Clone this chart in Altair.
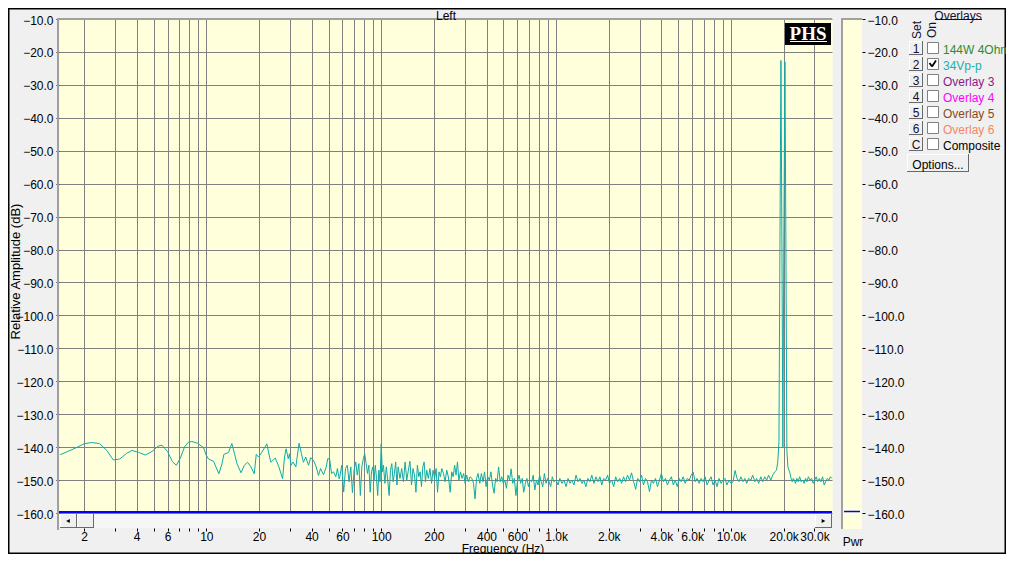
import altair as alt
import pandas as pd

# ---------------- spectrum data ----------------
freq_low = [1.46, 1.6, 1.8, 2.0, 2.2, 2.45, 2.7, 2.94, 3.2, 3.5,
            3.76, 4.1, 4.48, 4.9, 5.3, 5.58, 6.0, 6.4, 6.74, 7.1,
            7.5, 7.9, 8.28, 8.9, 9.65, 10.0, 10.3, 11.0, 11.8, 12.3,
            12.6, 13.4, 14.0, 14.5, 14.97, 15.8, 16.5, 17.2, 18.0, 18.8,
            19.3, 19.9, 20.8, 22.2, 23.0, 23.4, 24.8, 26.0, 27.3, 28.0,
            28.6, 29.4, 29.9, 30.5, 31.3, 32.5, 33.9, 35.0, 35.9, 37.0,
            38.4, 39.5, 41.0, 42.5, 43.8, 45.0, 46.8, 48.5, 49.5, 50.7,
            52.0, 53.4, 55.0, 56.2, 57.5]
db_low = [-142.3, -141.4, -140.2, -139.0, -138.6, -138.9, -141.0, -143.9, -143.6, -141.9,
          -141.0, -141.6, -142.4, -141.3, -139.7, -139.4, -141.3, -144.4, -145.5, -143.4,
          -140.0, -138.5, -138.3, -138.8, -140.2, -142.5, -143.6, -144.3, -148.1, -145.0,
          -142.2, -141.6, -138.9, -142.0, -145.0, -147.8, -145.5, -144.6, -146.0, -148.1,
          -142.2, -143.0, -141.5, -139.0, -143.0, -144.6, -143.3, -146.0, -149.6, -143.0,
          -140.5, -143.5, -142.0, -145.5, -144.5, -146.0, -138.8, -142.0, -144.6, -143.0,
          -145.5, -143.2, -144.0, -146.0, -148.6, -146.5, -148.4, -146.0, -143.5, -143.6,
          -148.0, -147.5, -149.0, -146.5, -149.6]

freq_mid = [58, 59.5, 61, 62.5, 64, 65.5, 67, 68.5, 70, 71.5,
            73, 74.5, 76, 77.5, 79, 80.5, 82, 83.5, 85, 86.5,
            88, 89.5, 91, 92.5, 94, 95.5, 97, 98.5, 100, 101.5,
            103, 105, 107, 109, 111, 113, 115, 117, 119, 121,
            123, 125, 128, 131, 134, 137, 140, 143, 146, 149,
            152, 155, 158, 161, 164, 167, 170, 173, 176, 179,
            182, 186, 190, 194, 198, 202, 206, 210, 214, 218,
            222, 227, 232, 237, 242, 248, 253, 258, 263, 268,
            273, 278, 284, 290, 296, 302, 308, 315, 322, 330,
            337, 344, 351, 358, 366, 374, 382, 390, 398, 406,
            415, 424, 433, 442, 451, 460, 469, 479, 489, 499,
            509, 520, 531, 542, 553, 565, 577, 589, 601, 614,
            627, 640, 653, 667, 681, 695, 710, 725, 740, 756,
            772, 788, 805, 822, 839, 857, 875, 893, 912, 931,
            951, 971]
db_mid = [-149.0, -145.5, -153.6, -146.5, -145.5, -150.5, -146.0, -153.8, -147.0, -144.5,
          -148.5, -145.0, -154.7, -146.0, -143.5, -142.0, -145.0, -148.0, -145.5, -153.7,
          -147.5, -146.0, -150.0, -145.5, -149.5, -154.7, -147.0, -150.5, -139.0, -147.5,
          -145.5, -151.0, -146.0, -150.0, -154.7, -147.0, -145.0, -150.5, -148.0, -144.5,
          -151.5, -146.0, -149.5, -146.5, -150.5, -144.5, -150.0, -147.0, -144.3, -151.5,
          -146.5, -148.5, -153.7, -145.5, -149.0, -147.5, -152.0, -146.0, -144.5, -150.5,
          -147.0, -149.5, -146.5, -151.0, -147.0, -149.5, -146.5, -153.7, -147.5, -149.0,
          -146.5, -148.0, -150.5, -147.0, -149.0, -153.7, -147.5, -149.0, -145.5, -148.5,
          -144.5, -150.0, -147.5, -149.5, -148.0, -151.0, -148.5, -150.5, -149.0, -149.5,
          -151.0, -155.7, -149.5, -148.0, -151.0, -148.0, -150.5, -147.5, -152.0, -149.0,
          -150.0, -147.5, -151.5, -154.0, -149.5, -150.5, -146.0, -150.5, -149.0, -151.0,
          -150.0, -152.5, -148.5, -150.0, -146.6, -151.0, -149.5, -154.7, -150.5, -148.5,
          -151.0, -149.5, -153.7, -151.0, -149.5, -152.0, -150.0, -150.5, -148.5, -153.0,
          -150.0, -151.5, -148.5, -150.5, -152.0, -148.0, -151.0, -149.5, -150.5, -152.0,
          -149.0, -150.5]

freq_high = [1000, 1025, 1050, 1080, 1110, 1140, 1170, 1200, 1230, 1265,
             1300, 1335, 1370, 1405, 1440, 1480, 1520, 1560, 1600, 1645,
             1690, 1735, 1780, 1825, 1870, 1920, 1970, 2020, 2080, 2135,
             2190, 2250, 2310, 2370, 2430, 2495, 2560, 2630, 2700, 2775,
             2850, 2925, 3000, 3080, 3160, 3245, 3330, 3420, 3510, 3600,
             3700, 3800, 3900, 4000, 4110, 4220, 4330, 4450, 4560, 4680,
             4800, 4930, 5060, 5190, 5330, 5470, 5620, 5770, 5920, 6080,
             6240, 6400, 6570, 6750, 6930, 7110, 7300, 7500, 7690, 7900,
             8100, 8320, 8540, 8770, 9000, 9240, 9480, 9740, 10000, 10270,
             10550, 10830, 11100, 11400, 11700, 12000, 12300, 12600, 13000, 13300,
             13700, 14000, 14400, 14800, 15200, 15600, 16000, 16400, 16900, 17300,
             17800, 18200, 18500, 18800, 19050, 19300, 19550, 19800, 20050, 20340,
             20600, 20870, 21150, 21450, 21750, 22050, 22400, 22700, 23000, 23400,
             23800, 24200, 24700, 25200, 25700, 26200, 26700, 27200, 27700, 28300,
             28900, 29500, 30100, 30700, 31300, 32000, 32700, 33400, 34100, 34800,
             35500, 36300, 37000, 37800]
db_high = [-150.0, -151.5, -149.5, -151.0, -150.0, -152.0, -149.5, -151.0, -150.0, -151.5,
           -148.5, -150.5, -149.5, -151.0, -150.0, -152.0, -149.5, -150.5, -148.5, -151.0,
           -149.0, -150.5, -149.0, -151.5, -149.5, -150.0, -148.5, -151.0, -150.0, -152.0,
           -149.0, -150.5, -149.5, -151.0, -149.0, -150.5, -148.5, -150.0, -147.8, -150.5,
           -152.8, -149.5, -150.5, -148.5, -151.5, -149.5, -150.5, -153.5, -150.0, -151.0,
           -149.5, -152.0, -150.0, -148.0, -150.5, -149.5, -151.5, -150.0, -149.0, -151.5,
           -150.0, -152.0, -149.5, -150.5, -149.0, -151.0, -149.5, -150.0, -148.5, -147.6,
           -150.5, -149.5, -151.0, -149.5, -150.5, -149.0, -151.5, -150.0, -149.0, -151.5,
           -150.0, -152.0, -149.5, -151.0, -150.0, -149.5, -151.5, -150.0, -151.0, -150.5,
           -147.1, -149.5, -150.5, -149.0, -150.5, -149.5, -151.0, -149.5, -150.0, -148.5,
           -150.5, -149.5, -151.0, -149.0, -150.5, -149.0, -150.0, -148.5, -150.0, -148.5,
           -147.5, -147.0, -144.6, -138.4, -78.0, -22.6, -78.0, -140.0, -78.0, -23.0,
           -78.0, -141.0, -146.0, -147.0, -148.0, -149.5, -150.5, -149.5, -150.0, -151.0,
           -149.5, -150.5, -149.0, -150.5, -150.0, -151.0, -149.5, -150.5, -149.0, -150.0,
           -149.5, -151.0, -150.0, -149.0, -150.5, -149.5, -150.5, -149.0, -151.5, -150.5,
           -149.5, -150.0, -149.0, -149.5]

y_tick_db = [-160, -150, -140, -130, -120, -110, -100, -90, -80, -70,
             -60, -50, -40, -30, -20, -10]
x_grid_hz = [2, 3, 4, 5, 6, 7, 8, 9, 10, 20, 30, 40, 50, 60, 70, 80, 90,
             100, 200, 300, 400, 500, 600, 700, 800, 900,
             1000, 2000, 3000, 4000, 5000, 6000, 7000, 8000, 9000,
             10000, 20000, 30000]
x_label_hz = [2, 4, 6, 10, 20, 40, 60, 100, 200, 400, 600,
              1000, 2000, 4000, 6000, 10000, 20000, 30000]

overlay_sets = ["1", "2", "3", "4", "5", "6", "C"]
overlay_names = ["144W 4Ohm", "34Vp-p", "Overlay 3", "Overlay 4",
                 "Overlay 5", "Overlay 6", "Composite"]
overlay_colors = ["#2E8B2E", "#20AFAF", "#8B1A8B", "#FF00FF",
                  "#8B4A1A", "#F5866A", "#000000"]
overlay_on = [False, True, False, False, False, False, False]

spectrum = pd.DataFrame({
    "f": freq_low + freq_mid + freq_high,
    "db": db_low + db_mid + db_high,
})

# ---------------- layout ----------------
FONT = "Liberation Sans"
OX, OY = 59, 19          # page position of the plot origin
W, H = 773, 494
LINE_COLOR = "#0FAAAA"
PLOT_FILL = "#FFFFDC"
TY = 1.5                 # compensation: 'middle' baseline sits a bit high


def px(v):
    return v - OX


def py(v):
    return v - OY


rect_rows, rule_rows, text_c, text_l, text_r = [], [], [], [], []


def add_rect(x1, y1, x2, y2, fill, stroke="transparent", sw=0):
    rect_rows.append(dict(x=px(x1), x2=px(x2), y=py(y1), y2=py(y2),
                          fill=fill, stroke=stroke, sw=sw))


def add_rule(x1, y1, x2, y2, color, w=1.0):
    rule_rows.append(dict(x=px(x1), x2=px(x2), y=py(y1), y2=py(y2),
                          color=color, w=w))


def add_button(x1, y1, x2, y2):
    add_rect(x1, y1, x2, y2, "#F0F0F0")
    add_rule(x1, y1 + 0.5, x2, y1 + 0.5, "#FFFFFF")
    add_rule(x1 + 0.5, y1, x1 + 0.5, y2, "#FFFFFF")
    add_rule(x1, y2 - 0.5, x2, y2 - 0.5, "#696969")
    add_rule(x2 - 0.5, y1, x2 - 0.5, y2, "#696969")


def add_text(lst, x, y, t, c, size=12):
    lst.append(dict(x=px(x), y=py(y + TY), t=t, c=c, s=size))


# plot borders
add_rect(57, 18, 832, 20, "#A0A0A0")
add_rect(57, 18, 59, 530, "#A0A0A0")
# scrollbar
add_rect(59, 514, 832, 528, "#F6F6F6")
add_button(60, 514, 77, 528)
add_button(77, 514, 94, 528)
add_button(815, 514, 832, 528)
# Pwr bar
add_rect(841, 18, 862, 529, PLOT_FILL)
add_rect(841, 18, 862, 20, "#A0A0A0")
add_rect(841, 18, 843, 529, "#A0A0A0")
# PHS logo box
add_rect(785, 23, 831, 45, "#000000")
add_rule(790, 41.5, 827, 41.5, "#FFFFFF", 1.2)
# blue baseline rules
add_rule(59, 512, 832, 512, "#0000FF", 2)
add_rule(844, 511.5, 860, 511.5, "#0000FF", 1.5)

# overlays panel
add_text(text_c, 958, 14, "Overlays", "#101030")
add_rule(935, 19.5, 982, 19.5, "#101030", 1)
add_text(text_r, 916.5, 28.5, "Set", "#101030")
add_text(text_r, 932, 28.5, "On", "#101030")
for i, (s, name, col, on) in enumerate(zip(overlay_sets, overlay_names,
                                           overlay_colors, overlay_on)):
    yc = 48 + 16 * i
    add_button(909, yc - 7, 923, yc + 7)
    add_text(text_c, 916, yc - 0.5, s, "#101030")
    add_rect(927.5, yc - 5.5, 938.5, yc + 5.5, "#FFFFFF", "#808080", 1)
    add_text(text_l, 943, yc, name, col)
    if on:
        add_rule(929.5, yc - 1, 932, yc + 2.5, "#000000", 1.8)
        add_rule(932, yc + 2.5, 936, yc - 3.5, "#000000", 1.8)
add_button(907, 154, 969, 172)
add_text(text_c, 938, 163, "Options...", "#000000")

# titles / misc labels
add_text(text_c, 446, 14, "Left", "#000000")
add_text(text_c, 503, 547, "Frequency (Hz)", "#000000")
add_text(text_c, 853, 540, "Pwr", "#000000")
add_text(text_r, 15.5, 270, "Relative Amplitude (dB)", "#000000", 13)

arrows = pd.DataFrame([
    dict(x=px(68), y=py(521), s="triangle-left"),
    dict(x=px(823.5), y=py(521), s="triangle-right"),
])

frame = pd.DataFrame([dict(x=px(8.75), x2=px(1005.25), y=py(8.75), y2=py(553.25))])

# ---------------- chart ----------------
label_list = ",".join(str(v) for v in x_label_hz)
label_expr = (f"indexof([{label_list}], datum.value) >= 0 ? "
              "(datum.value >= 1000 ? format(datum.value / 1000, '.1f') + 'k' "
              ": format(datum.value, 'd')) : ''")

xscale = alt.Scale(type="log", domain=[1.438, 37800], nice=False)
yscale = alt.Scale(domain=[-160, -10], nice=False, zero=False)

line = alt.Chart(spectrum).mark_line(color=LINE_COLOR, strokeWidth=1).encode(
    x=alt.X("f:Q", scale=xscale,
            axis=alt.Axis(values=x_grid_hz, labelExpr=label_expr, grid=True,
                          offset=15, tickSize=3, labelPadding=0, title=None,
                          labelOverlap=False, labelBound=False, labelFlush=False,
                          domain=False)),
    y=alt.Y("db:Q", scale=yscale,
            axis=alt.Axis(values=y_tick_db, format=".1f", grid=True, tickSize=3,
                          labelPadding=3, title=None, domain=False,
                          labelOverlap=False, labelOffset=1)),
)

right_axis = alt.Chart(spectrum).mark_point(opacity=0).encode(
    x=alt.X("f:Q", scale=xscale, axis=None),
    y=alt.Y("db:Q", scale=yscale,
            axis=alt.Axis(orient="right", values=y_tick_db, format=".1f",
                          grid=False, offset=30, tickSize=3, labelPadding=2,
                          title=None, domain=False, labelOverlap=False,
                          labelOffset=1)),
)


def pix_x(field="x"):
    return alt.X(f"{field}:Q", scale=None, axis=None)


def pix_y(field="y"):
    return alt.Y(f"{field}:Q", scale=None, axis=None)


rects = alt.Chart(pd.DataFrame(rect_rows)).mark_rect().encode(
    x=pix_x(), x2="x2:Q", y=pix_y(), y2="y2:Q",
    fill=alt.Fill("fill:N", scale=None),
    stroke=alt.Stroke("stroke:N", scale=None),
    strokeWidth=alt.StrokeWidth("sw:Q", scale=None),
)

rules = alt.Chart(pd.DataFrame(rule_rows)).mark_rule().encode(
    x=pix_x(), x2="x2:Q", y=pix_y(), y2="y2:Q",
    color=alt.Color("color:N", scale=None),
    strokeWidth=alt.StrokeWidth("w:Q", scale=None),
)

arrow_marks = alt.Chart(arrows).mark_point(filled=True, size=18, color="#000000",
                                           opacity=1).encode(
    x=pix_x(), y=pix_y(), shape=alt.Shape("s:N", scale=None),
)


def text_layer(rows, align, angle=0):
    kw = dict(font=FONT, align=align, baseline="middle")
    if angle:
        kw["angle"] = angle
    return alt.Chart(pd.DataFrame(rows)).mark_text(**kw).encode(
        x=pix_x(), y=pix_y(), text="t:N",
        color=alt.Color("c:N", scale=None),
        size=alt.Size("s:Q", scale=None))


texts_center = text_layer(text_c, "center")
texts_left = text_layer(text_l, "left")
texts_rot = text_layer(text_r, "center", 270)

phs = alt.Chart(pd.DataFrame([dict(x=px(808), y=py(34), t="PHS")])).mark_text(
    font="Liberation Serif", fontSize=19, fontWeight="bold", color="#FFFFFF",
    align="center", baseline="middle").encode(x=pix_x(), y=pix_y(), text="t:N")

frame_mark = alt.Chart(frame).mark_rect(fill="transparent", stroke="#000000",
                                        strokeWidth=1.5).encode(
    x=pix_x(), x2="x2:Q", y=pix_y(), y2="y2:Q")

chart = alt.layer(
    line, right_axis, rects, rules, arrow_marks, frame_mark,
    texts_center, texts_left, texts_rot, phs,
).resolve_axis(
    y="independent", x="independent"
).properties(
    width=W, height=H,
    padding={"left": 51, "top": 11, "right": 174, "bottom": 41},
    autosize=alt.AutoSizeParams(type="none"),
    background="#F0F0F0",
).configure_view(
    fill=PLOT_FILL, stroke="transparent"
).configure_axis(
    labelFont=FONT, labelFontSize=12, labelColor="#000000",
    tickColor="#000000", gridColor="#808080", gridWidth=1, gridOpacity=1,
)

chart.save("out.html", embed_options={"renderer": "svg", "actions": False})
